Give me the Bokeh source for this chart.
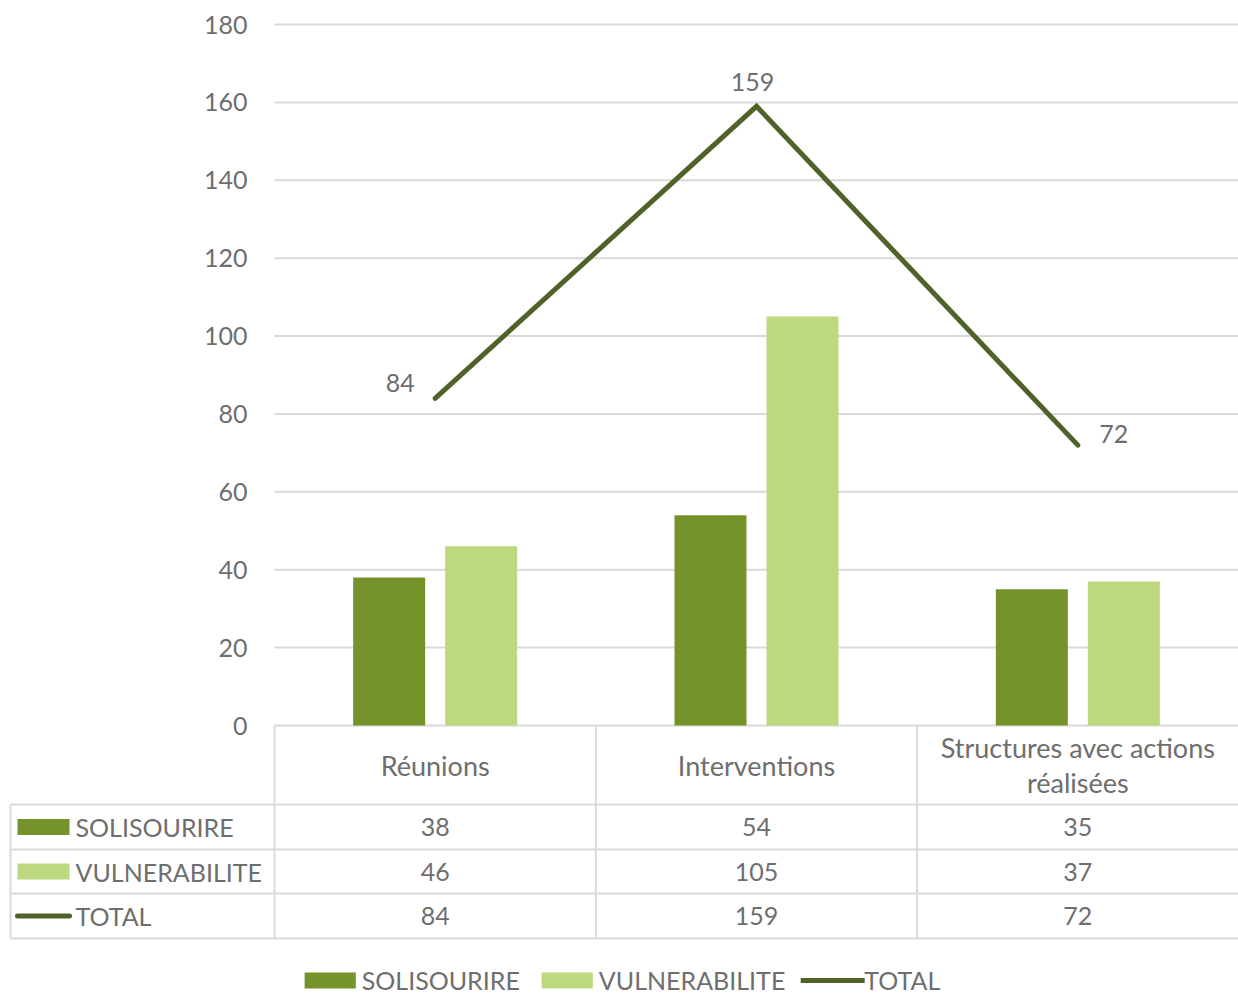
from bokeh.plotting import figure
from bokeh.models import Range1d, Legend, LegendItem
from bokeh.core.properties import value
from bokeh.embed import file_html
from bokeh.resources import INLINE

# ---------------- data ----------------
categories = ["Réunions", "Interventions", "Structures avec actions réalisées"]
header_labels = ["Réunions", "Interventions", "Structures avec actions\nréalisées"]
series_names = ["SOLISOURIRE", "VULNERABILITE", "TOTAL"]
solisourire = [38, 54, 35]
vulnerabilite = [46, 105, 37]
total = [84, 159, 72]
y_ticks = [0, 20, 40, 60, 80, 100, 120, 140, 160, 180]

# ---------------- style ----------------
FONT = "Lato"
FS = "25px"
FS_HEAD = "27px"
TEXT_COLOR = "#6E6E6E"
GRID_COLOR = "#D9D9D9"
C_SOLI = "#74942B"
C_VULN = "#BDD97F"
C_TOTAL = "#4F6228"

# layout in page pixels
PAGE = 0
W, H = 1238, 995
PLOT_L, PLOT_R = 274, 1238
PLOT_T, PLOT_B = 24, 725
Y_MAX = y_ticks[-1]
N = len(categories)
X_SCALE = (PLOT_R - PLOT_L) / N
Y_SCALE = (PLOT_B - PLOT_T) / Y_MAX


def ux(px):
    return (px - PLOT_L) / X_SCALE


def uy(py):
    return (PLOT_B - py) / Y_SCALE


ROW_EDGES = [725, 804, 849, 893, 938]
TABLE_LEFT = 10

p = figure(width=W, height=H,
           x_range=Range1d(ux(PAGE), ux(PAGE + W)),
           y_range=Range1d(uy(PAGE + H), uy(PAGE)),
           output_backend="svg", toolbar_location=None,
           x_axis_location=None, y_axis_location=None,
           min_border=0, outline_line_color=None)
p.background_fill_color = "white"
p.border_fill_color = "white"
for g in p.grid:
    g.visible = False

xs = [i + 0.5 for i in range(N)]
col_edges = [i for i in range(N + 1)]

# gridlines
p.segment(x0=[0] * len(y_ticks), x1=[N] * len(y_ticks), y0=y_ticks, y1=y_ticks,
          line_color=GRID_COLOR, line_width=2)

# y tick labels
p.text(x=[ux(247)] * len(y_ticks), y=y_ticks, text=[str(t) for t in y_ticks],
       text_align="right", text_baseline="middle", text_font=value(FONT),
       text_font_size=FS, text_color=TEXT_COLOR)

# bars
BAR_W = 72 / X_SCALE
OFF = 46 / X_SCALE
r1 = p.vbar(x=[x - OFF for x in xs], top=solisourire, bottom=0, width=BAR_W,
            fill_color=C_SOLI, line_color=None)
r2 = p.vbar(x=[x + OFF for x in xs], top=vulnerabilite, bottom=0, width=BAR_W,
            fill_color=C_VULN, line_color=None)
r3 = p.line(xs, total, line_width=5, line_color=C_TOTAL, line_cap="round",
            line_join="miter")

# data labels on the total line
p.text(x=xs, y=total, text=[str(v) for v in total],
       x_offset=[-35, -4, 36], y_offset=[-15, -24, -11],
       text_align="center", text_baseline="middle", text_font=value(FONT),
       text_font_size=FS, text_color=TEXT_COLOR)

# ---------------- data table ----------------
row_y = [uy(v) for v in ROW_EDGES]
# horizontal lines
p.segment(x0=[ux(TABLE_LEFT)] * 4, x1=[N] * 4, y0=row_y[1:], y1=row_y[1:],
          line_color=GRID_COLOR, line_width=2)
# vertical lines
p.segment(x0=[ux(TABLE_LEFT)], x1=[ux(TABLE_LEFT)], y0=[row_y[1]], y1=[row_y[-1]],
          line_color=GRID_COLOR, line_width=2)
p.segment(x0=col_edges[:-1], x1=col_edges[:-1], y0=[row_y[0]] * N, y1=[row_y[-1]] * N,
          line_color=GRID_COLOR, line_width=2)

row_centers = [(row_y[i] + row_y[i + 1]) / 2 for i in range(4)]

# header labels
p.text(x=xs, y=[row_centers[0]] * N, text=header_labels,
       text_align="center", text_baseline="middle", text_font=value(FONT),
       text_font_size=FS_HEAD, text_color=TEXT_COLOR, text_line_height=1.05)

# values
for k, vals in enumerate([solisourire, vulnerabilite, total]):
    p.text(x=xs, y=[row_centers[k + 1]] * N, text=[str(v) for v in vals],
           text_align="center", text_baseline="middle", text_font=value(FONT),
           text_font_size=FS, text_color=TEXT_COLOR)

# row names
p.text(x=[ux(75)] * 3, y=row_centers[1:], text=series_names,
       text_align="left", text_baseline="middle", text_font=value(FONT),
       text_font_size=FS, text_color=TEXT_COLOR)

# row swatches
p.rect(x=[ux(43)] * 2, y=row_centers[1:3], width=52 / X_SCALE, height=16 / Y_SCALE,
       fill_color=[C_SOLI, C_VULN], line_color=None)
p.segment(x0=[ux(17)], x1=[ux(69)], y0=[row_centers[3]], y1=[row_centers[3]],
          line_color=C_TOTAL, line_width=5, line_cap="round")

# ---------------- legend ----------------
legend = Legend(items=[LegendItem(label=series_names[0], renderers=[r1]),
                       LegendItem(label=series_names[1], renderers=[r2]),
                       LegendItem(label=series_names[2], renderers=[r3])],
                orientation="horizontal", location="bottom_center",
                glyph_width=64, glyph_height=20, label_standoff=0, spacing=15,
                padding=0, margin=0, border_line_color=None,
                background_fill_alpha=0,
                label_text_font=FONT, label_text_font_size=FS,
                label_text_color=TEXT_COLOR)
p.add_layout(legend)

open("out.html", "w").write(file_html(p, INLINE))
